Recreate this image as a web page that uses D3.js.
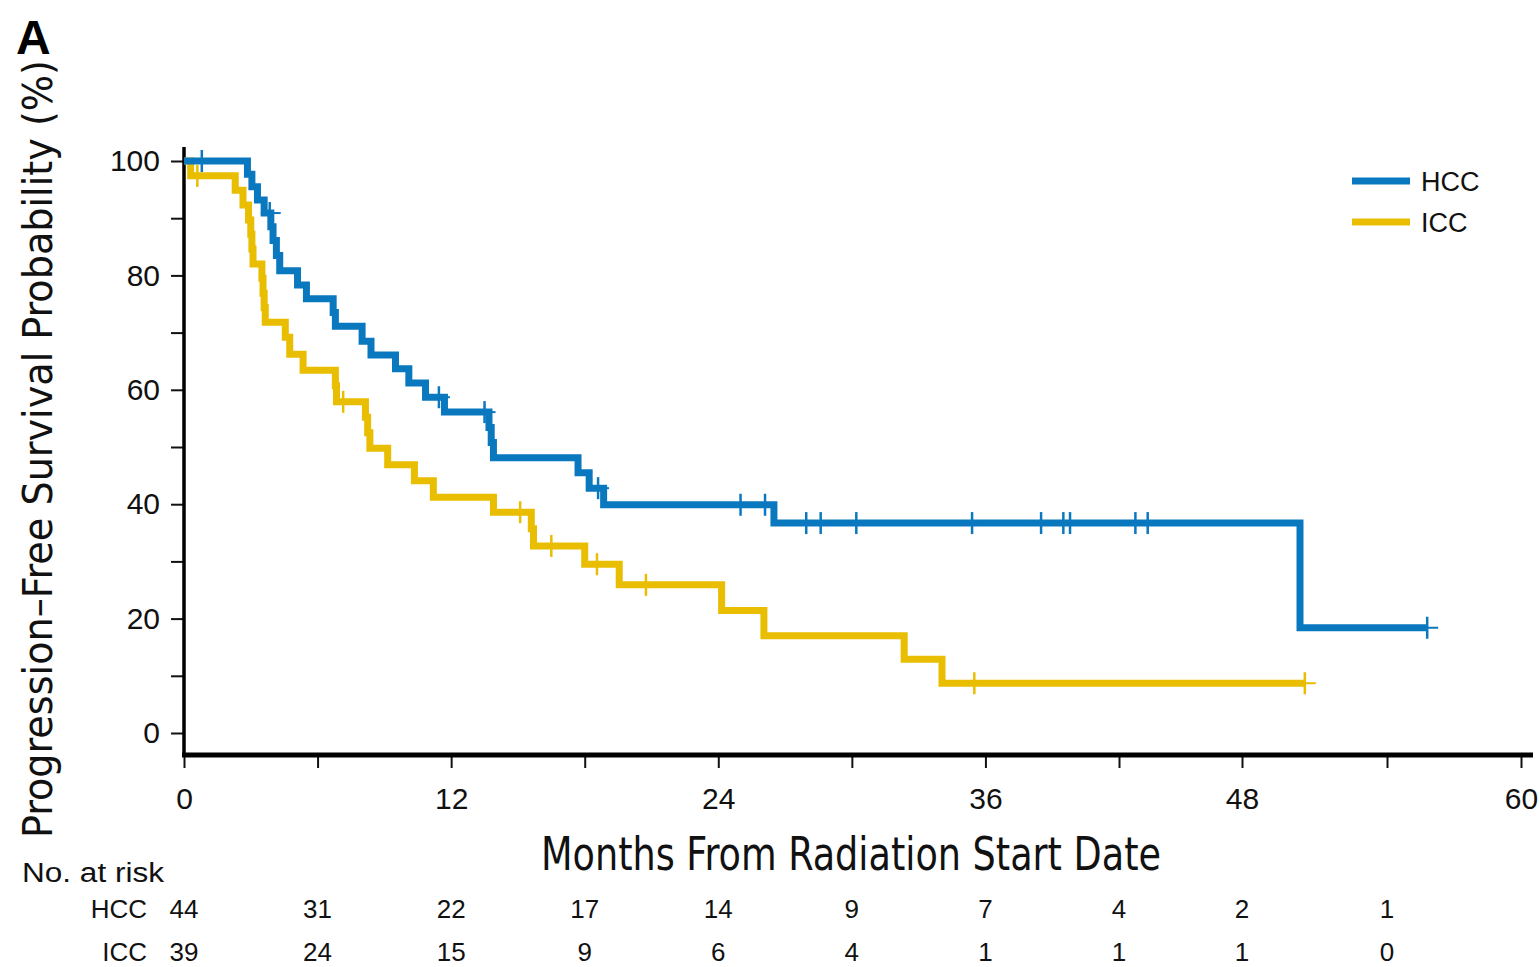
<!DOCTYPE html>
<html>
<head>
<meta charset="utf-8">
<script src="https://cdn.jsdelivr.net/npm/d3@7"></script>
<style>
  body { margin: 0; background: #fff; }
  svg { display: block; font-family: "Liberation Sans Narrow", "Arial Narrow", "DejaVu Sans Condensed", "Liberation Sans", sans-serif; }
</style>
</head>
<body>
<svg id="km" width="1540" height="967"></svg>
<script>
// Kaplan-Meier steps: [month, PFS %]
const hccSteps = [[0, 100], [2.85, 97.7], [3.05, 95.5], [3.3, 93.2], [3.6, 90.9], [3.9, 88.5], [4.0, 86.1],
  [4.15, 83.5], [4.3, 80.8], [5.1, 78.3], [5.5, 75.9], [6.7, 73.5], [6.8, 71.1], [8.0, 68.5], [8.4, 66.1],
  [9.5, 63.7], [10.1, 61.2], [10.85, 58.7], [11.7, 56.1], [13.7, 53.4], [13.8, 50.8], [13.9, 48.1],
  [17.7, 45.5], [18.2, 42.8], [18.85, 39.9], [26.5, 36.7], [50.4, 18.4]];
const hccEnd = 55.8;
const hccCensor = [0.8, 3.85, 11.45, 13.5, 18.6, 25.0, 26.1, 27.95, 28.6, 30.2, 35.4, 38.5, 39.5, 39.8, 42.8, 43.4, 55.8];

const iccSteps = [[0, 100], [0.3, 97.4], [2.3, 94.9], [2.65, 92.3], [2.9, 89.7], [3.0, 87.2], [3.05, 84.6],
  [3.1, 82.0], [3.5, 79.5], [3.55, 76.9], [3.6, 74.4], [3.65, 71.8], [4.55, 69.2], [4.75, 66.2], [5.35, 63.4],
  [6.8, 60.7], [6.85, 57.9], [8.15, 55.2], [8.25, 52.5], [8.35, 49.8], [9.15, 46.9], [10.35, 44.1],
  [11.2, 41.2], [13.9, 38.6], [15.6, 35.7], [15.7, 32.7], [18.0, 29.5], [19.55, 25.9], [24.15, 21.4],
  [26.05, 17.0], [32.35, 12.9], [34.05, 8.7]];
const iccEnd = 50.6;
const iccCensor = [0.6, 7.15, 15.1, 16.5, 18.55, 20.75, 35.5, 50.6];

const riskMonths = [0, 6, 12, 18, 24, 30, 36, 42, 48, 54];
const hccRisk = [44, 31, 22, 17, 14, 9, 7, 4, 2, 1];
const iccRisk = [39, 24, 15, 9, 6, 4, 1, 1, 1, 0];

const yTicks = [0, 10, 20, 30, 40, 50, 60, 70, 80, 90, 100];
const xTicks = [0, 6, 12, 18, 24, 30, 36, 42, 48, 54, 60];

const blue = "#0a78bf";
const yellow = "#e9bd00";
const labelFont = "Liberation Sans, Arial, sans-serif";

const svg = d3.select("#km");
// the printed month axis is slightly uneven past 42 months
const x = d3.scaleLinear().domain([0, 42, 48, 54, 60]).range([184, 1119, 1242, 1387, 1521]);
const y = d3.scaleLinear().domain([0, 100]).range([733, 161]);

// panel letter
svg.append("text").attr("x", 16).attr("y", 54)
  .style("font-family", labelFont)
  .style("font-weight", "bold").style("font-size", "48px").text("A");

// y axis
const yAxis = svg.append("g").attr("transform", "translate(183,0)")
  .call(d3.axisLeft(y).tickValues(yTicks).tickSize(12).tickPadding(11)
    .tickFormat(d => d % 20 === 0 ? d : ""));
yAxis.select(".domain").remove();
yAxis.selectAll(".tick line").attr("stroke", "#111").attr("stroke-width", 2);
yAxis.selectAll(".tick text").attr("fill", "#111")
  .style("font-family", labelFont).style("font-size", "30px");

// x axis
const xAxis = svg.append("g").attr("transform", "translate(0,757)")
  .call(d3.axisBottom(x).tickValues(xTicks).tickSize(11).tickPadding(20)
    .tickFormat(d => d % 12 === 0 ? d : ""));
xAxis.select(".domain").remove();
xAxis.selectAll(".tick line").attr("stroke", "#111").attr("stroke-width", 2);
xAxis.selectAll(".tick text").attr("fill", "#111")
  .style("font-family", labelFont).style("font-size", "30px");

// thick spines
svg.append("line").attr("x1", 184).attr("x2", 184).attr("y1", 147).attr("y2", 757)
  .attr("stroke", "#000").attr("stroke-width", 3.5);
svg.append("line").attr("x1", 182).attr("x2", 1533).attr("y1", 755).attr("y2", 755)
  .attr("stroke", "#000").attr("stroke-width", 5);

// axis titles
svg.append("text")
  .attr("transform", "translate(52,449) rotate(-90)")
  .attr("text-anchor", "middle")
  .attr("textLength", 778).attr("lengthAdjust", "spacingAndGlyphs")
  .style("font-size", "41px").attr("fill", "#111")
  .text("Progression\u2013Free Survival Probability (%)");

svg.append("text")
  .attr("x", 851).attr("y", 870)
  .attr("text-anchor", "middle")
  .attr("textLength", 620).attr("lengthAdjust", "spacingAndGlyphs")
  .style("font-size", "46px").attr("fill", "#111")
  .text("Months From Radiation Start Date");

// curves
function survAt(steps, t) {
  let s = steps[0][1];
  steps.forEach(p => { if (p[0] <= t) s = p[1]; });
  return s;
}

const line = d3.line().x(d => x(d[0])).y(d => y(d[1])).curve(d3.curveStepAfter);

function drawCurve(steps, end, censor, color) {
  const pts = steps.concat([[end, steps[steps.length - 1][1]]]);
  svg.append("path").datum(pts)
    .attr("d", line)
    .attr("fill", "none")
    .attr("stroke", color)
    .attr("stroke-width", 7)
    .attr("stroke-linejoin", "miter")
    .attr("stroke-linecap", "butt");

  const marks = svg.append("g").selectAll("g")
    .data(censor).enter().append("g")
    .attr("transform", d => `translate(${x(d)},${y(survAt(steps, d))})`);
  marks.append("line").attr("x1", 0).attr("x2", 0).attr("y1", -11).attr("y2", 11)
    .attr("stroke", color).attr("stroke-width", 2.5);
  marks.append("line").attr("x1", -9).attr("x2", 11).attr("y1", 0).attr("y2", 0)
    .attr("stroke", color).attr("stroke-width", 2);
}

drawCurve(iccSteps, iccEnd, iccCensor, yellow);
drawCurve(hccSteps, hccEnd, hccCensor, blue);

// legend
const legend = svg.append("g");
[["HCC", blue, 181], ["ICC", yellow, 222]].forEach(([name, color, ly]) => {
  legend.append("line").attr("x1", 1352).attr("x2", 1410).attr("y1", ly).attr("y2", ly)
    .attr("stroke", color).attr("stroke-width", 7);
  legend.append("text").attr("x", 1421).attr("y", ly + 10)
    .style("font-family", labelFont)
    .style("font-size", "27px").attr("fill", "#111").text(name);
});

// number at risk table
svg.append("text").attr("x", 22).attr("y", 882)
  .attr("textLength", 142).attr("lengthAdjust", "spacingAndGlyphs")
  .style("font-family", labelFont)
  .style("font-size", "27px").attr("fill", "#111").text("No. at risk");

[["HCC", hccRisk, 918], ["ICC", iccRisk, 961]].forEach(([name, vals, ty]) => {
  svg.append("text").attr("x", 147).attr("y", ty).attr("text-anchor", "end")
    .style("font-family", labelFont)
    .style("font-size", "26px").attr("fill", "#111").text(name);
  svg.append("g").selectAll("text").data(vals).enter().append("text")
    .attr("x", (d, i) => x(riskMonths[i]))
    .attr("y", ty)
    .attr("text-anchor", "middle")
    .style("font-family", labelFont)
    .style("font-size", "26px").attr("fill", "#111")
    .text(d => d);
});
</script>
</body>
</html>
